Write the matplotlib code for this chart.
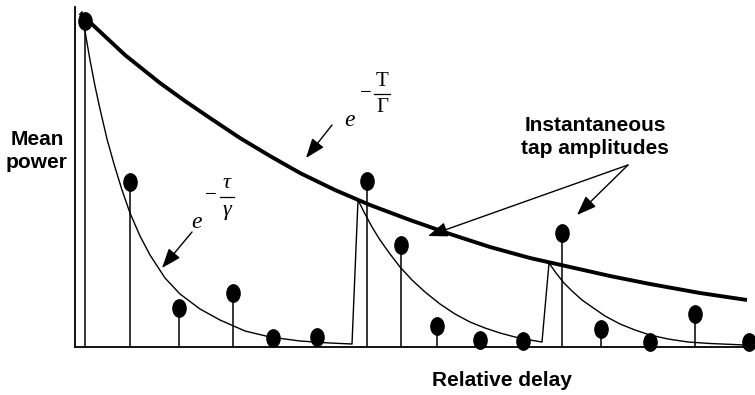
import numpy as np
import matplotlib
matplotlib.use('Agg')
import matplotlib.pyplot as plt
from matplotlib.path import Path
from matplotlib.transforms import Affine2D

# tap positions (relative delay) and instantaneous tap amplitudes
tap_delay = [10, 55, 104, 158, 198, 242, 292, 326, 362, 405, 448, 487, 526, 575, 620, 674]
tap_amp = [326, 165, 39, 54, 9, 10, 166, 102, 21, 7, 6, 114, 18, 5, 33, 5]

# mean power envelope e^(-T/Gamma)
env_delay = [5, 20, 35, 50, 65, 85, 110, 135, 165, 195, 225, 260, 295, 335, 375,
             415, 455, 495, 535, 575, 625, 672]
env_power = [334, 320, 306, 292, 280, 264, 246, 229, 209, 191, 174, 157, 142, 127, 113,
             100, 89, 80, 71, 63, 54, 47]

# short-term decays e^(-tau/gamma), three bursts
burst_delay = [7, 11, 15, 20, 25, 32, 39, 47, 55, 65, 75, 90, 105, 125, 145, 170, 195, 225, 255, 277,
               283, 289, 297, 305, 315, 325, 337, 350, 365, 380, 395, 410, 425, 440, 455, 467,
               474, 481, 489, 497, 507, 517, 530, 545, 560, 575, 593, 613, 635, 670]
burst_power = [335, 310, 287, 261, 238, 208, 183, 157, 134, 111, 92, 69, 53, 38, 27, 16, 10, 6, 4, 3,
               147, 135, 120, 107, 93, 80, 67, 55, 43, 33, 25, 19, 14, 10, 7, 5,
               84, 74, 64, 56, 47, 40, 31, 23, 17, 12, 8, 5, 3.5, 2]

fig = plt.figure(figsize=(7.55, 3.95), dpi=100)
ax = fig.add_axes([75 / 755, 48 / 395, 680 / 755, 340 / 395])
ax.set_xlim(0, 680)
ax.set_ylim(0, 340)
for s in ['top', 'right']:
    ax.spines[s].set_visible(False)
for s in ['left', 'bottom']:
    ax.spines[s].set_linewidth(1.3)
ax.set_xticks([])
ax.set_yticks([])

# ellipse marker
ell = Path.unit_circle().transformed(Affine2D().scale(0.76, 1.0))

ax.plot(env_delay, env_power, color='k', lw=2.8, solid_capstyle='butt', zorder=2)
ax.plot(burst_delay, burst_power, color='k', lw=1.0, zorder=2)
ax.vlines(tap_delay, 0, tap_amp, color='k', lw=1.1, zorder=3)
ax.plot(tap_delay, tap_amp, ls='none', marker=ell, ms=12.5, color='k',
        clip_on=False, zorder=4)

serif = 'Liberation Serif'
# e^(-T/Gamma)
ax.text(275, 227, 'e', fontsize=17, family=serif, style='italic', ha='center', va='center')
ax.text(291, 254, '\u2212', fontsize=15, family=serif, ha='center', va='center')
ax.text(307, 266, 'T', fontsize=15, family=serif, ha='center', va='center')
ax.plot([299, 315], [253, 253], color='k', lw=0.9, clip_on=False)
ax.text(307, 239, '\u0393', fontsize=15, family=serif, ha='center', va='center')
# e^(-tau/gamma)
ax.text(122, 124, 'e', fontsize=17, family=serif, style='italic', ha='center', va='center')
ax.text(136, 152, '\u2212', fontsize=15, family=serif, ha='center', va='center')
ax.text(152, 164, '\u03c4', fontsize=16, family=serif, style='italic', ha='center', va='center')
ax.plot([145, 159], [150, 150], color='k', lw=0.9, clip_on=False)
ax.text(152, 136, '\u03b3', fontsize=16, family=serif, style='italic', ha='center', va='center')

arrow = dict(arrowstyle='-|>,head_length=0.8,head_width=0.3', color='k', lw=1.0,
             mutation_scale=15, shrinkA=0, shrinkB=0)
ax.annotate('', xy=(231, 189), xytext=(257, 222), arrowprops=arrow)
ax.annotate('', xy=(87, 79), xytext=(117, 115), arrowprops=arrow)
ax.annotate('', xy=(353, 111), xytext=(553, 182), arrowprops=arrow)
ax.annotate('', xy=(502, 132), xytext=(553, 182), arrowprops=arrow)

sans = 'Liberation Sans'
fig.text(37 / 755, 1 - 151 / 395, 'Mean\npower', fontsize=15, family=sans, weight='bold',
         ha='center', va='center', linespacing=1.3)
fig.text(595 / 755, 1 - 137 / 395, 'Instantaneous\ntap amplitudes', fontsize=15, family=sans,
         weight='bold', ha='center', va='center', linespacing=1.3)
fig.text(502 / 755, 1 - 381 / 395, 'Relative delay', fontsize=15, family=sans, weight='bold',
         ha='center', va='center')

fig.savefig('out.png', dpi=100)
